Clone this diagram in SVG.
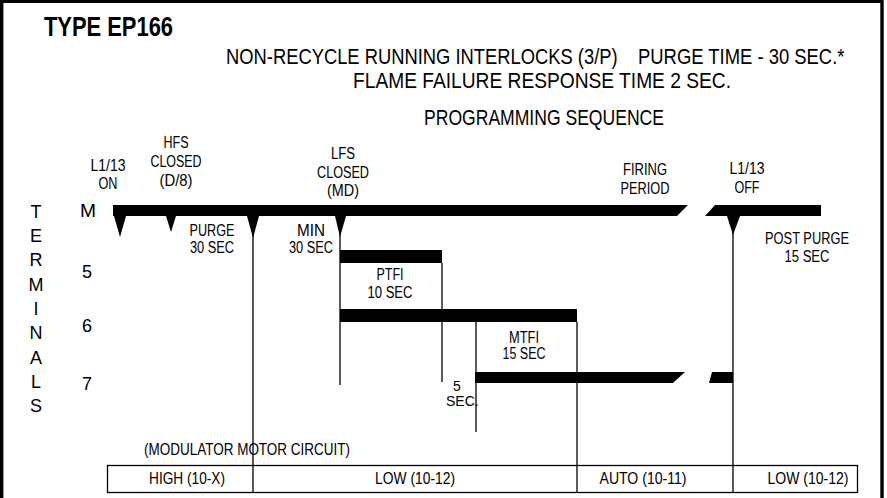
<svg xmlns="http://www.w3.org/2000/svg" width="887" height="498" viewBox="0 0 887 498">
<style>
text{font-family:"Liberation Sans",Arial,sans-serif;fill:#000}
.t{font-size:28px;font-weight:bold}
.h{font-size:22px}
.lb{font-size:16px;text-anchor:middle}
.tb{font-size:16px;text-anchor:middle}
.v{font-size:18px;text-anchor:middle}
.n{font-size:18px}
.r{font-size:14px}
.ln{stroke:#000;stroke-width:1.3;fill:none}
.bar{fill:#000}
</style>
<rect width="887" height="498" fill="#fff"/>
<path d="M1.7,498 V1.4 H882 V498" fill="none" stroke="#000" stroke-width="3.4"/>
<g id="title">
<text class="t" x="44" y="36" textLength="129" lengthAdjust="spacingAndGlyphs">TYPE EP166</text>
<text class="h" transform="translate(226,64) scale(0.835,1)" x="0" y="0">NON-RECYCLE RUNNING INTERLOCKS (3/P)</text>
<text class="h" transform="translate(638,64) scale(0.838,1)" x="0" y="0">PURGE TIME - 30 SEC.*</text>
<text class="h" x="353" y="88" textLength="378" lengthAdjust="spacingAndGlyphs">FLAME FAILURE RESPONSE TIME 2 SEC.</text>
<text class="h" x="424" y="125" textLength="240" lengthAdjust="spacingAndGlyphs">PROGRAMMING SEQUENCE</text>
</g>
<g id="terminals-label">
<text class="v" x="36" y="218">T</text>
<text class="v" x="36" y="242">E</text>
<text class="v" x="36" y="266">R</text>
<text class="v" x="36" y="291">M</text>
<text class="v" x="36" y="315">I</text>
<text class="v" x="36" y="339">N</text>
<text class="v" x="36" y="364">A</text>
<text class="v" x="36" y="388">L</text>
<text class="v" x="36" y="412">S</text>
</g>
<g id="terminal-numbers">
<text class="n" x="80" y="217" textLength="16" lengthAdjust="spacingAndGlyphs">M</text>
<text class="n" x="82" y="278">5</text>
<text class="n" x="82" y="332">6</text>
<text class="n" x="82" y="390">7</text>
</g>
<g id="events">
<text class="lb" x="108" y="171" textLength="35" lengthAdjust="spacingAndGlyphs">L1/13</text>
<text class="lb" x="108" y="189" textLength="19" lengthAdjust="spacingAndGlyphs">ON</text>
<text class="lb" x="176" y="148" textLength="25" lengthAdjust="spacingAndGlyphs">HFS</text>
<text class="lb" x="176" y="167" textLength="51" lengthAdjust="spacingAndGlyphs">CLOSED</text>
<text class="lb" x="176" y="186" textLength="33" lengthAdjust="spacingAndGlyphs">(D/8)</text>
<text class="lb" x="343" y="159" textLength="24" lengthAdjust="spacingAndGlyphs">LFS</text>
<text class="lb" x="343" y="178" textLength="52" lengthAdjust="spacingAndGlyphs">CLOSED</text>
<text class="lb" x="343" y="196" textLength="32" lengthAdjust="spacingAndGlyphs">(MD)</text>
<text class="lb" x="645" y="175" textLength="44" lengthAdjust="spacingAndGlyphs">FIRING</text>
<text class="lb" x="645" y="194" textLength="49" lengthAdjust="spacingAndGlyphs">PERIOD</text>
<text class="lb" x="747" y="174" textLength="35" lengthAdjust="spacingAndGlyphs">L1/13</text>
<text class="lb" x="747" y="193" textLength="25" lengthAdjust="spacingAndGlyphs">OFF</text>
</g>
<g id="periods">
<text class="lb" x="212" y="236" textLength="45" lengthAdjust="spacingAndGlyphs">PURGE</text>
<text class="lb" x="212" y="253" textLength="44" lengthAdjust="spacingAndGlyphs">30 SEC</text>
<text class="lb" x="311" y="236" textLength="28" lengthAdjust="spacingAndGlyphs">MIN</text>
<text class="lb" x="311" y="253" textLength="44" lengthAdjust="spacingAndGlyphs">30 SEC</text>
<text class="lb" x="390" y="280" textLength="27" lengthAdjust="spacingAndGlyphs">PTFI</text>
<text class="lb" x="390" y="298" textLength="45" lengthAdjust="spacingAndGlyphs">10 SEC</text>
<text class="lb" x="524" y="343" textLength="30" lengthAdjust="spacingAndGlyphs">MTFI</text>
<text class="lb" x="524" y="359" textLength="43" lengthAdjust="spacingAndGlyphs">15 SEC</text>
<text class="lb" x="807" y="244" textLength="84" lengthAdjust="spacingAndGlyphs">POST PURGE</text>
<text class="lb" x="807" y="262" textLength="45" lengthAdjust="spacingAndGlyphs">15 SEC</text>
<text class="r" x="453" y="391">5</text>
<text class="r" x="446" y="406">SEC.</text>
</g>
<g id="bars">
<polygon class="bar" points="113,205 688,205 677,216 113,216"/>
<polygon class="bar" points="715,205 821,205 821,216 705,216"/>
<polygon class="bar" points="114,216 126,216 120,237"/>
<polygon class="bar" points="166,216 176,216 171,232"/>
<polygon class="bar" points="247,216 259,216 253,238"/>
<polygon class="bar" points="335,216 346,216 340,237"/>
<polygon class="bar" points="727,216 740,216 733,235"/>
<rect class="bar" x="340" y="250" width="102" height="13"/>
<rect class="bar" x="340" y="309" width="237" height="13"/>
<polygon class="bar" points="475,372 685,372 673,383 475,383"/>
<polygon class="bar" points="712,372 733,372 733,383 709,383"/>
</g>
<g id="connectors">
<line class="ln" x1="253" y1="216" x2="253" y2="492"/>
<line class="ln" x1="340" y1="216" x2="340" y2="385"/>
<line class="ln" x1="442" y1="263" x2="442" y2="382"/>
<line class="ln" x1="476" y1="322" x2="476" y2="432"/>
<line class="ln" x1="577" y1="322" x2="577" y2="492"/>
<line class="ln" x1="733" y1="216" x2="733" y2="492"/>
</g>
<g id="modulator">
<text class="tb" x="247" y="455" textLength="206" lengthAdjust="spacingAndGlyphs">(MODULATOR MOTOR CIRCUIT)</text>
<rect x="107.5" y="465.5" width="750" height="27" fill="none" stroke="#000" stroke-width="1.3"/>
<text class="tb" x="187" y="484" textLength="76" lengthAdjust="spacingAndGlyphs">HIGH (10-X)</text>
<text class="tb" x="415" y="484" textLength="80" lengthAdjust="spacingAndGlyphs">LOW (10-12)</text>
<text class="tb" x="643" y="484" textLength="87" lengthAdjust="spacingAndGlyphs">AUTO (10-11)</text>
<text class="tb" x="808" y="484" textLength="81" lengthAdjust="spacingAndGlyphs">LOW (10-12)</text>
</g>
</svg>
